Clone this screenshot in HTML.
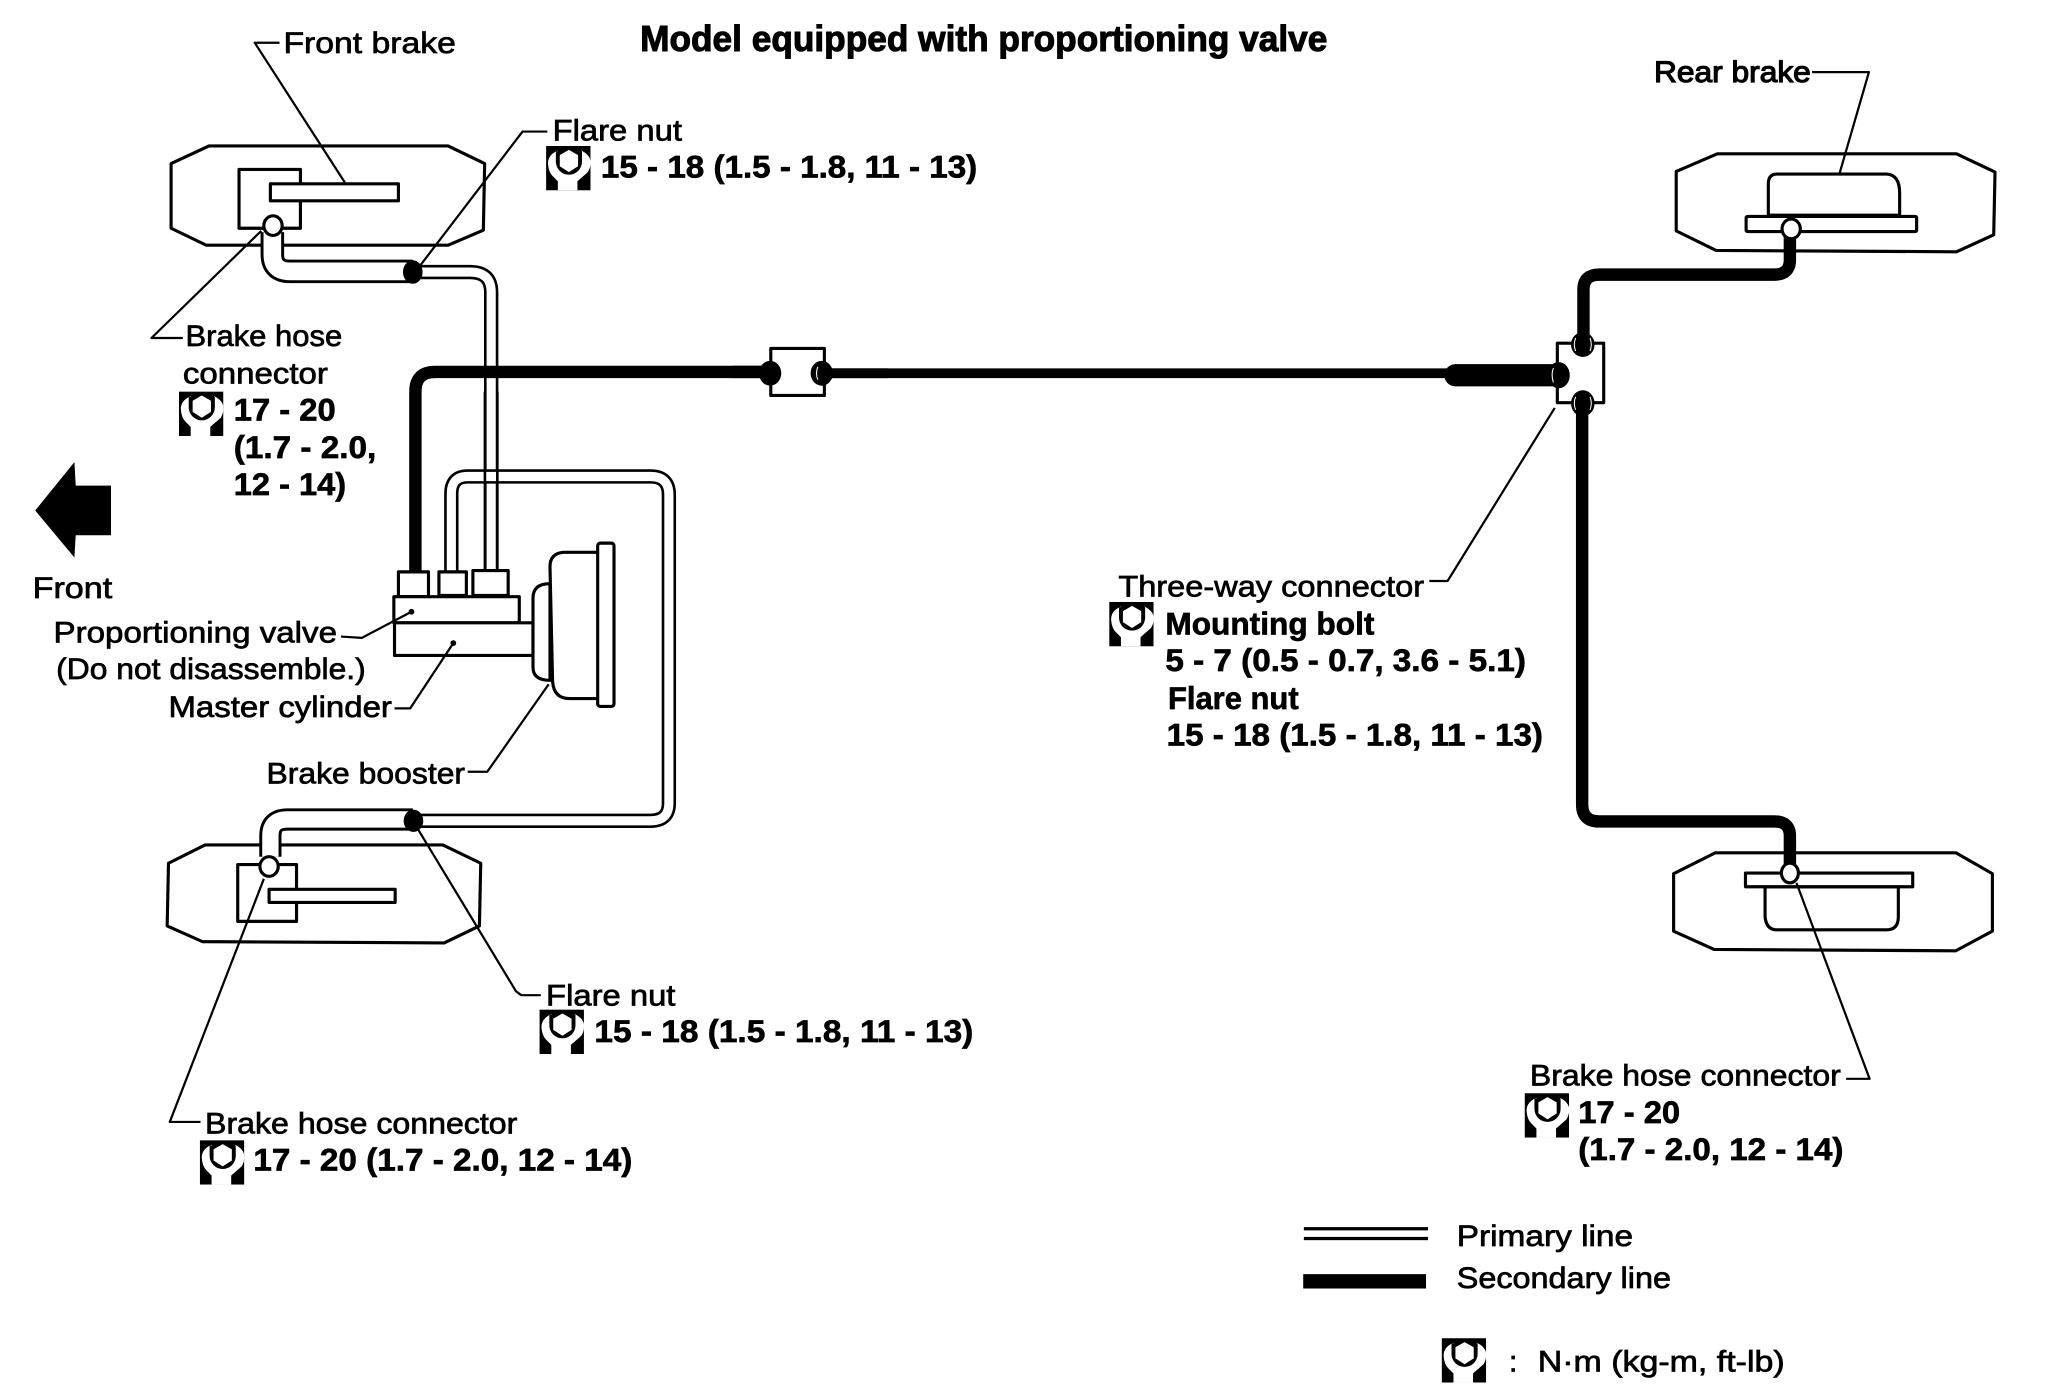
<!DOCTYPE html>
<html>
<head>
<meta charset="utf-8">
<style>
html,body{margin:0;padding:0;background:#fff}
svg{display:block}
text{font-family:"Liberation Sans",sans-serif;fill:#000}
.r{font-size:23px;stroke:#000;stroke-width:.55px}
.b{font-size:24px;font-weight:bold;stroke:#000;stroke-width:.5px}
.t{font-size:28px;font-weight:bold;stroke:#000;stroke-width:.8px}
.o{fill:#fff;stroke:#000;stroke-width:2.4;stroke-linejoin:round}
.n{fill:none;stroke:#000;stroke-width:2.4;stroke-linejoin:round}
.l{fill:none;stroke:#000;stroke-width:1.7;stroke-linejoin:round}
.nut{fill:#000;stroke:#000;stroke-width:1}
</style>
</head>
<body>
<svg xmlns="http://www.w3.org/2000/svg" width="2048" height="1398" viewBox="0.3 0.3 1567 1070">
<defs>
<symbol id="w" viewBox="0 0 34 34">
<rect x="0" y="0" width="34" height="34" fill="#000"/>
<path d="M9 3.5 Q1 7 1.5 14 Q2 20 5 23 L9 27 L9 34 L24 34 L24 27 L32 20 Q34.5 16 34 11 Q33 6.5 27 3.5 L25 12 L11 12 Z" fill="#fff"/>
<path d="M7.5 4 L7.5 12 A10 10 0 0 0 27.5 12 L27.5 4 Z" fill="#000"/>
<polygon points="17.5,3 24.5,7 24.5,15.5 17.5,20 10.5,15.5 10.5,7" fill="#fff"/>
</symbol>
</defs>

<!-- Brake outlines -->
<polygon class="n" points="131,125.5 160,112 343,112 371,125.5 370,176.5 343,188 158,188 131,175"/>
<polygon class="n" points="129,661 157,647 339,647 368,661 367,709 340,722 155,721 128,709"/>
<polygon class="n" points="1283,131.5 1314.5,118 1497.5,118 1527,132 1526,180 1497.5,193 1313.5,192 1283,177"/>
<polygon class="n" points="1281,669 1313,653 1497,653 1525,669 1525,713 1497,728 1312,727 1281,713"/>

<!-- Front calipers -->
<rect class="o" x="183" y="130" width="47" height="45"/>
<rect class="o" x="207" y="141" width="98" height="13"/>
<rect class="o" x="182" y="662" width="45" height="43.5"/>
<rect class="o" x="206" y="681" width="96.5" height="10"/>

<!-- Rear drums -->
<path class="o" d="M1353.5 165 L1353.5 140 Q1354 133.5 1360 133.5 L1444 133.5 Q1454 134 1454 148 L1454 165 Z"/>
<rect class="o" x="1336.5" y="166" width="130.5" height="11.5" rx="1"/>
<path class="o" d="M1351 679 L1351 702 Q1352 712 1360 712 L1444 712 Q1453 712 1453 702 L1453 679 Z"/>
<rect class="o" x="1336" y="668.5" width="128" height="10.5"/>

<!-- Primary line pipe 1 -->
<path d="M322 208.5 L360 208.5 Q376 208.5 376 224 L376 438" fill="none" stroke="#000" stroke-width="11"/>
<path d="M322 208.5 L360 208.5 Q376 208.5 376 224 L376 440" fill="none" stroke="#fff" stroke-width="7"/>

<!-- Primary line pipe 2 -->
<path d="M345.5 438 L345.5 378 Q345.5 365 358 365 L498 365 Q512 365 512 379 L512 615 Q512 628.5 498 628.5 L322 628.5" fill="none" stroke="#000" stroke-width="11"/>
<path d="M345.5 440 L345.5 378 Q345.5 365 358 365 L498 365 Q512 365 512 379 L512 615 Q512 628.5 498 628.5 L322 628.5" fill="none" stroke="#fff" stroke-width="7"/>
<line x1="371.2" y1="300" x2="371.2" y2="438" stroke="#000" stroke-width="2"/>
<line x1="380.7" y1="300" x2="380.7" y2="438" stroke="#000" stroke-width="2"/>

<!-- Front hoses -->
<path d="M208.5 178 L208.5 195 Q208.5 208 222 208 L316 208" fill="none" stroke="#000" stroke-width="18"/>
<path d="M208.5 178 L208.5 195 Q208.5 208 222 208 L318 208" fill="none" stroke="#fff" stroke-width="13.5"/>
<path d="M207 656 L207 640 Q207 627.5 220 627.5 L316 627.5" fill="none" stroke="#000" stroke-width="17"/>
<path d="M207 656 L207 640 Q207 627.5 220 627.5 L318 627.5" fill="none" stroke="#fff" stroke-width="12.5"/>

<!-- Secondary lines -->
<path d="M318 438 L318 300 Q318 285 333 285 L588 285" fill="none" stroke="#000" stroke-width="9.5"/>
<line x1="628" y1="286" x2="1108" y2="286" stroke="#000" stroke-width="7.5"/>
<path d="M1212 262 L1212 222 Q1212 210.5 1224 210.5 L1358 210.5 Q1370 210.5 1370 199 L1370 178" fill="none" stroke="#000" stroke-width="9.5"/>
<path d="M1211 310 L1211 616 Q1211 629 1224 629 L1358 629 Q1370 629 1370 640 L1370 662" fill="none" stroke="#000" stroke-width="9.5"/>

<!-- Connectors -->
<rect class="o" x="590" y="267" width="41" height="36"/>
<rect class="o" x="1192" y="263" width="35.5" height="45.5"/>
<line x1="628" y1="286" x2="680" y2="286" stroke="#000" stroke-width="7.5"/>
<line x1="560" y1="285" x2="588" y2="285" stroke="#000" stroke-width="9.5"/>
<line x1="1114" y1="287.5" x2="1192" y2="287.5" stroke="#000" stroke-width="17" stroke-linecap="round"/>

<!-- Nuts -->
<ellipse class="nut" cx="589.5" cy="286" rx="8" ry="9"/>
<ellipse class="nut" cx="629" cy="286" rx="8" ry="9"/>
<ellipse class="nut" cx="1193" cy="287.5" rx="8" ry="9.5"/>
<ellipse class="nut" cx="1211.5" cy="264" rx="8.5" ry="9"/>
<ellipse class="nut" cx="1211.5" cy="309" rx="8.5" ry="9.5"/>
<ellipse class="nut" cx="316" cy="208.5" rx="7" ry="8.5"/>
<ellipse class="nut" cx="316.5" cy="628.5" rx="7" ry="8"/>
<path d="M626 281 Q624 286 626 291 M1189 282 Q1187 287 1189 293 M1206 259 Q1204 264 1206 269 M1206 304 Q1204 309 1206 314 M1217 304 Q1219 309 1217 314 M1217 259 Q1219 264 1217 269" stroke="#fff" stroke-width=".8" fill="none"/>

<!-- Brake hose circles -->
<ellipse class="o" cx="209" cy="173" rx="7" ry="7.5" stroke-width="2.6"/>
<ellipse class="o" cx="206" cy="663.5" rx="7" ry="7.5"/>
<ellipse class="o" cx="1371" cy="175.5" rx="7" ry="7.5"/>
<ellipse class="o" cx="1370" cy="668.5" rx="6.5" ry="7.5"/>

<!-- Master cylinder group -->
<rect class="o" x="305" y="438" width="23" height="19"/>
<rect class="o" x="336" y="438" width="21" height="18"/>
<rect class="o" x="362" y="437" width="27" height="19"/>
<rect class="o" x="301.5" y="457" width="96" height="20"/>
<rect class="o" x="302" y="477" width="106" height="25"/>
<path class="o" d="M421 447 Q408 447 408 458 L408 511 Q408 521 421 521 Z"/>
<path class="o" d="M458 423 L431 423 Q421 424 421 434 L423 522 Q424 535 436 535 L458 535 Z"/>
<rect class="o" x="457.5" y="416" width="12.5" height="125" rx="2"/>
<circle cx="315" cy="468.5" r="2.2"/>
<circle cx="347" cy="492.5" r="2.2"/>

<!-- Front arrow -->
<polygon points="27,391 57,354 58,372 85,372 85,410 58,410 57,427" fill="#000"/>

<!-- Leaders -->
<polyline class="l" points="214,33 195,33 264,140"/>
<polyline class="l" points="419,101 400,101 319,207"/>
<polyline class="l" points="200,177 116,259 140,259"/>
<polyline class="l" points="315,468.5 277,488.5 261,487.5"/>
<polyline class="l" points="347,492.5 314,542.5 302,542.5"/>
<polyline class="l" points="420,524 373,591 358,591"/>
<polyline class="l" points="202,673 130,859 153.5,859"/>
<polyline class="l" points="320,635 395,759 399,762 414,762"/>
<polyline class="l" points="1387,55.5 1430.5,55.5 1408,133"/>
<polyline class="l" points="1190,312.5 1108,445 1094,445"/>
<polyline class="l" points="1375,676 1431,826 1413,826"/>

<!-- Icons -->
<use href="#w" x="418" y="112" width="34" height="34"/>
<use href="#w" x="137" y="300" width="34" height="34"/>
<use href="#w" x="413" y="773" width="34" height="34"/>
<use href="#w" x="153" y="873" width="34" height="34"/>
<use href="#w" x="849" y="461" width="34" height="34"/>
<use href="#w" x="1167" y="837" width="34" height="34"/>
<use href="#w" x="1103.5" y="1024.5" width="34" height="34"/>

<!-- Labels -->
<text class="t" x="490" y="39.3" textLength="526" lengthAdjust="spacingAndGlyphs">Model equipped with proportioning valve</text>
<text class="r" x="217" y="41" textLength="132" lengthAdjust="spacingAndGlyphs">Front brake</text>
<text class="r" x="423" y="108" textLength="99" lengthAdjust="spacingAndGlyphs">Flare nut</text>
<text class="b" x="460" y="136" textLength="288" lengthAdjust="spacingAndGlyphs">15 - 18 (1.5 - 1.8, 11 - 13)</text>
<text class="r" x="142" y="265" textLength="120" lengthAdjust="spacingAndGlyphs">Brake hose</text>
<text class="r" x="140" y="294" textLength="111" lengthAdjust="spacingAndGlyphs">connector</text>
<text class="b" x="179" y="322" textLength="78" lengthAdjust="spacingAndGlyphs">17 - 20</text>
<text class="b" x="179" y="351" textLength="109" lengthAdjust="spacingAndGlyphs">(1.7 - 2.0,</text>
<text class="b" x="179" y="379" textLength="86" lengthAdjust="spacingAndGlyphs">12 - 14)</text>
<text class="r" x="25" y="458" textLength="61" lengthAdjust="spacingAndGlyphs">Front</text>
<text class="r" x="41" y="492" textLength="217" lengthAdjust="spacingAndGlyphs">Proportioning valve</text>
<text class="r" x="43" y="520" textLength="237" lengthAdjust="spacingAndGlyphs">(Do not disassemble.)</text>
<text class="r" x="129" y="549" textLength="171" lengthAdjust="spacingAndGlyphs">Master cylinder</text>
<text class="r" x="204" y="600" textLength="152" lengthAdjust="spacingAndGlyphs">Brake booster</text>
<text class="r" x="418" y="770" textLength="99" lengthAdjust="spacingAndGlyphs">Flare nut</text>
<text class="b" x="455" y="798" textLength="290" lengthAdjust="spacingAndGlyphs">15 - 18 (1.5 - 1.8, 11 - 13)</text>
<text class="r" x="157" y="868" textLength="239" lengthAdjust="spacingAndGlyphs">Brake hose connector</text>
<text class="b" x="194" y="896" textLength="290" lengthAdjust="spacingAndGlyphs">17 - 20 (1.7 - 2.0, 12 - 14)</text>
<text class="r" x="1266" y="63" textLength="120" lengthAdjust="spacingAndGlyphs" style="stroke-width:.9px">Rear brake</text>
<text class="r" x="856" y="457" textLength="234" lengthAdjust="spacingAndGlyphs">Three-way connector</text>
<text class="b" x="892" y="486" textLength="160" lengthAdjust="spacingAndGlyphs">Mounting bolt</text>
<text class="b" x="892" y="514" textLength="276" lengthAdjust="spacingAndGlyphs">5 - 7 (0.5 - 0.7, 3.6 - 5.1)</text>
<text class="b" x="894" y="543" textLength="100" lengthAdjust="spacingAndGlyphs">Flare nut</text>
<text class="b" x="893" y="571" textLength="288" lengthAdjust="spacingAndGlyphs">15 - 18 (1.5 - 1.8, 11 - 13)</text>
<text class="r" x="1171" y="831" textLength="238" lengthAdjust="spacingAndGlyphs">Brake hose connector</text>
<text class="b" x="1208" y="860" textLength="78" lengthAdjust="spacingAndGlyphs">17 - 20</text>
<text class="b" x="1208" y="888" textLength="203" lengthAdjust="spacingAndGlyphs">(1.7 - 2.0, 12 - 14)</text>

<!-- Legend -->
<rect x="998" y="939.5" width="95" height="2.5" fill="#000"/>
<rect x="998" y="947" width="95" height="2.5" fill="#000"/>
<rect x="997.5" y="975.5" width="94" height="11" fill="#000"/>
<text class="r" x="1115" y="954" textLength="135" lengthAdjust="spacingAndGlyphs">Primary line</text>
<text class="r" x="1115" y="986" textLength="164" lengthAdjust="spacingAndGlyphs">Secondary line</text>
<text class="r" x="1155" y="1050">:</text>
<text class="r" x="1177" y="1050" textLength="189" lengthAdjust="spacingAndGlyphs">N·m (kg-m, ft-lb)</text>
</svg>
</body>
</html>
